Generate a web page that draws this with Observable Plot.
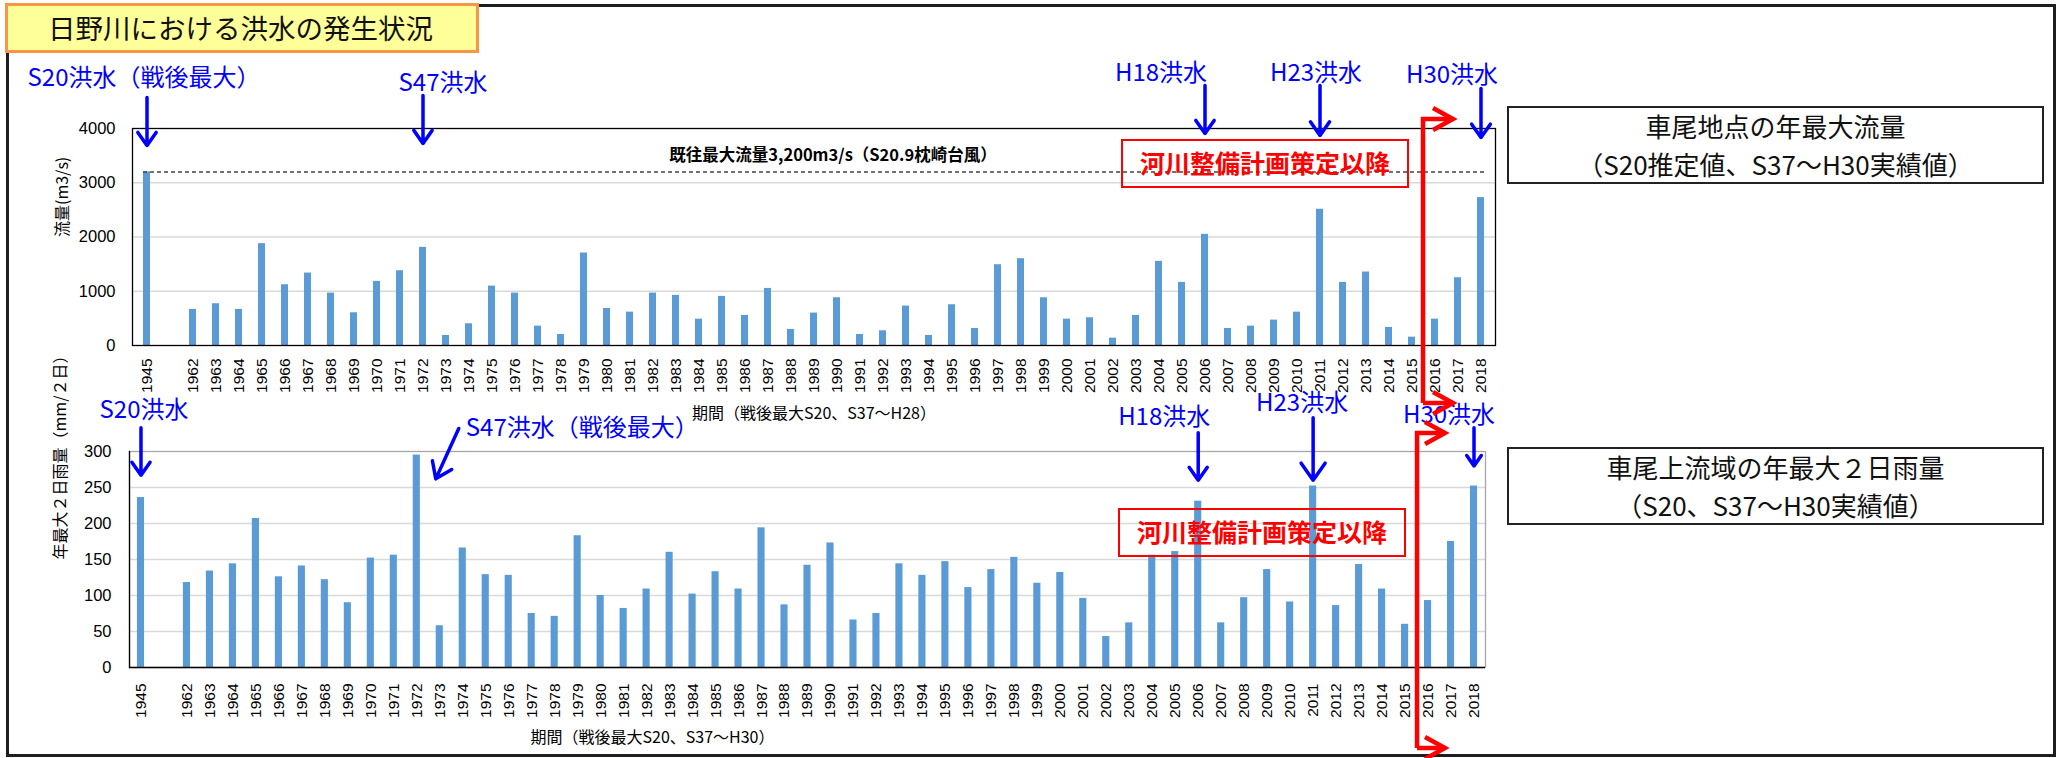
<!DOCTYPE html>
<html>
<head>
<meta charset="utf-8">
<script src="https://cdn.jsdelivr.net/npm/d3@7"></script>
<script src="https://cdn.jsdelivr.net/npm/@observablehq/plot@0.6"></script>
<style>
  body { margin: 0; background: #fff; }
  #page { position: relative; width: 2057px; height: 758px; overflow: hidden; background: #fff;
          font-family: "Noto Sans CJK JP", "Noto Sans", sans-serif; }
  .abs { position: absolute; }
  #frame { left: 6px; top: 4px; width: 2050px; height: 753px; box-sizing: border-box; border: 3px solid #1e1e1e; }
  #title { left: 5px; top: 3px; width: 474px; height: 50px; box-sizing: border-box; border: 3px solid #F79646;
           background: #FFFF99; font-size: 27.5px; line-height: 43px; padding-left: 40px; color: #111; white-space: nowrap; }
  .legend { left: 1507px; width: 537px; height: 78px; box-sizing: border-box; border: 2px solid #222;
            display: flex; flex-direction: column; justify-content: center; align-items: center;
            font-size: 26px; line-height: 38px; color: #111; white-space: nowrap; }
  .plot { left: 0; }
</style>
</head>
<body>
<div id="page">
  <div id="frame" class="abs"></div>
</div>
<script>
// ---------------- data ----------------
const years = ["1945",
  "1962","1963","1964","1965","1966","1967","1968","1969","1970","1971",
  "1972","1973","1974","1975","1976","1977","1978","1979","1980","1981",
  "1982","1983","1984","1985","1986","1987","1988","1989","1990","1991",
  "1992","1993","1994","1995","1996","1997","1998","1999","2000","2001",
  "2002","2003","2004","2005","2006","2007","2008","2009","2010","2011",
  "2012","2013","2014","2015","2016","2017","2018"];

// 車尾地点の年最大流量 (m3/s)
const flow = [3200,
  665, 770, 665, 1877, 1120, 1335, 966, 603, 1182, 1378,
  1809, 185, 400, 1095, 966, 357, 203, 1705, 683, 615,
  966, 923, 486, 905, 554, 1052, 295, 597, 880, 203,
  271, 726, 185, 751, 314, 1489, 1600, 880, 486, 511,
  135, 554, 1551, 1163, 2049, 314, 357, 468, 615, 2511,
  1163, 1354, 332, 154, 486, 1249, 2726];

// 車尾上流域の年最大2日雨量 (mm/2日)
const rain = [236,
  118, 134, 144, 207, 126, 141, 122, 90, 152, 156,
  295, 58, 166, 129, 128, 75, 71, 183, 100, 82,
  109, 160, 102, 133, 109, 194, 87, 142, 173, 66,
  75, 144, 128, 147, 111, 136, 153, 117, 132, 96,
  43, 62, 156, 161, 231, 62, 97, 136, 91, 252,
  86, 143, 109, 60, 93, 175, 252];

const flowTicks = [0, 1000, 2000, 3000, 4000];
const rainTicks = [0, 50, 100, 150, 200, 250, 300];
const maxFlow = 3200;

const titleText = "日野川における洪水の発生状況";
const flowLegend = ["車尾地点の年最大流量", "（S20推定値、S37～H30実績値）"];
const rainLegend = ["車尾上流域の年最大２日雨量", "（S20、S37～H30実績値）"];
const flowYLabel = "流量(m3/s)";
const rainYLabel = "年最大２日雨量（mm/２日）";
const flowXLabel = "期間（戦後最大S20、S37～H28）";
const rainXLabel = "期間（戦後最大S20、S37～H30）";
const maxFlowLabel = "既往最大流量3,200m3/s（S20.9枕崎台風）";
const planLabel = "河川整備計画策定以降";

// flood annotations: label, year pointed at, label height, arrow start/end (in axis units)
const flowNotes = [
  {label: "S20洪水（戦後最大）", year: "1945", ty: 4922, dx: -3,  y1: 4571, y2: 3687},
  {label: "S47洪水",             year: "1972", ty: 4829, dx: 20,  y1: 4608, y2: 3724},
  {label: "H18洪水",             year: "2006", ty: 5014, dx: -44, y1: 4793, y2: 3908},
  {label: "H23洪水",             year: "2011", ty: 5014, dx: -4,  y1: 4793, y2: 3871},
  {label: "H30洪水",             year: "2018", ty: 4977, dx: -29, y1: 4737, y2: 3834}
];
const rainNotes = [
  {label: "S20洪水",             year: "1945", ty: 357, dx: 3,   y1: 333, y2: 267},
  {label: "H18洪水",             year: "2006", ty: 347, dx: -34, y1: 326, y2: 260},
  {label: "H23洪水",             year: "2011", ty: 367, dx: -11, y1: 347, y2: 260},
  {label: "H30洪水",             year: "2018", ty: 350, dx: -25, y1: 333, y2: 280}
];
const rainNoteS47 = {label: "S47洪水（戦後最大）", from: "1974", to: "1973", ty: 332, y1: 332, y2: 262};

// ---------------- layout ----------------
const W = 2057;
const GAP = " ";
const xDomain = [years[0], GAP, ...years.slice(1)];
const barBlue = "#5B9BD5";
const noteBlue = "#0000FF";
const jp = "Noto Sans CJK JP, sans-serif";
const latin = "Liberation Sans, Arial, sans-serif";

const page = document.getElementById("page");

function chart({data, yDomain, ticks, top, height, mt, mb, ml, mr, frameStroke, notes, extra, ylabel, xlabel, xlabelDx, xlabelDy, tickPad, ylabelDx, ytickPad}) {
  const p = Plot.plot({
    width: W, height,
    marginTop: mt, marginBottom: mb, marginLeft: ml, marginRight: mr,
    style: {background: "transparent", overflow: "visible", fontFamily: latin, color: "#000"},
    x: {type: "band", domain: xDomain, paddingInner: 0.69, paddingOuter: 0.345, axis: null},
    y: {domain: yDomain, axis: null},
    marks: [
      Plot.gridY(ticks.slice(1, -1), {stroke: "#d9d9d9", strokeOpacity: 1, strokeWidth: 1.5}),
      Plot.barY(data, {x: "year", y: "value", fill: barBlue}),
      ...frameStroke,
      Plot.axisX({tickSize: 0, tickPadding: tickPad, tickRotate: -90, fontSize: 15.5,
                  tickFormat: d => (d === GAP ? "" : d), label: null, fontFamily: latin}),
      Plot.axisY(ticks, {tickSize: 0, tickPadding: ytickPad, fontSize: 16.5, label: null,
                  tickFormat: d => String(d), fontFamily: latin}),
      Plot.text([ylabel], {text: d => d, frameAnchor: "left", dx: ylabelDx, rotate: -90,
                           fontSize: 16, fontFamily: jp, fill: "#000"}),
      Plot.text([xlabel], {text: d => d, frameAnchor: "bottom", dx: xlabelDx, dy: xlabelDy,
                           fontSize: 16, fontFamily: jp, fill: "#000", lineAnchor: "middle"}),
      ...extra,
      Plot.arrow(notes, {x1: "year", x2: "year", y1: "y1", y2: "y2", stroke: noteBlue,
                         strokeWidth: 3.5, headLength: 15, headAngle: 70}),
      ...notes.map(n => Plot.text([n], {x: "year", y: "ty", text: "label", dx: n.dx,
                         fontSize: 24, fontFamily: jp, fill: noteBlue, lineAnchor: "middle"}))
    ]
  });
  p.classList.add("abs", "plot");
  p.style.top = top + "px";
  page.appendChild(p);
  return p;
}

const flowData = years.map((y, i) => ({year: y, value: flow[i]}));
const rainData = years.map((y, i) => ({year: y, value: rain[i]}));

chart({
  data: flowData, yDomain: [0, 4000], ticks: flowTicks,
  top: 0, height: 420, mt: 128, mb: 75, ml: 132, mr: W - 1495,
  frameStroke: [Plot.frame({stroke: "#000", strokeWidth: 1.3})],
  notes: flowNotes,
  extra: [
    Plot.ruleY([{v: maxFlow, a: years[0], b: years[years.length - 1]}],
               {y: "v", x1: "a", x2: "b", stroke: "#444", strokeWidth: 1.5, strokeDasharray: "4,3"}),
    Plot.text([{t: maxFlowLabel, x: "1990", v: 3502}], {x: "x", y: "v", text: "t", dx: -4,
               fontSize: 16.5, fontWeight: "bold", fontFamily: jp, fill: "#000", lineAnchor: "middle"})
  ],
  ylabel: flowYLabel, xlabel: flowXLabel, xlabelDx: 0, xlabelDy: 68, tickPad: 13,
  ylabelDx: -70, ytickPad: 17
});

chart({
  data: rainData, yDomain: [0, 300], ticks: rainTicks,
  top: 380, height: 378, mt: 71, mb: 91, ml: 129, mr: W - 1485,
  frameStroke: [Plot.frame({stroke: "#a6a6a6", strokeWidth: 1.3}),
                Plot.ruleY([0], {stroke: "#000", strokeWidth: 1.3}),
                Plot.frame({anchor: "left", stroke: "#000", strokeWidth: 1.3})],
  notes: rainNotes,
  extra: [
    Plot.arrow([rainNoteS47], {x1: "from", x2: "to", y1: "y1", y2: "y2", dx: -4, stroke: noteBlue,
               strokeWidth: 3.5, headLength: 15, headAngle: 70}),
    Plot.text([rainNoteS47], {x: "from", y: "ty", text: "label", dx: 3, textAnchor: "start",
               fontSize: 24, fontFamily: jp, fill: noteBlue, lineAnchor: "middle"})
  ],
  ylabel: rainYLabel, xlabel: rainXLabel, xlabelDx: -155, xlabelDy: 70, tickPad: 16,
  ylabelDx: -69, ytickPad: 18
});

// ---------------- title & legend boxes ----------------
const title = document.createElement("div");
title.className = "abs"; title.id = "title"; title.textContent = titleText;
page.appendChild(title);

function legend(lines, top) {
  const d = document.createElement("div");
  d.className = "abs legend";
  d.style.top = top + "px";
  for (const l of lines) { const s = document.createElement("div"); s.textContent = l; d.appendChild(s); }
  page.appendChild(d);
}
legend(flowLegend, 106);
legend(rainLegend, 447);

// ---------------- overlay: red plan boxes and brackets ----------------
const svg = d3.select(page).append("svg")
  .attr("class", "abs").attr("width", W).attr("height", 758)
  .style("left", "0px").style("top", "0px").style("pointer-events", "none");

function planBox(x, y, w, h) {
  svg.append("rect").attr("x", x).attr("y", y).attr("width", w).attr("height", h)
    .attr("fill", "none").attr("stroke", "#FF0000").attr("stroke-width", 2);
  svg.append("text").attr("x", x + w / 2).attr("y", y + h / 2).attr("dy", "0.36em")
    .attr("text-anchor", "middle").attr("fill", "#FF0000").attr("font-weight", "bold")
    .attr("font-family", jp).attr("font-size", 25).text(planLabel);
}
planBox(1122, 140, 286, 47);
planBox(1119, 509, 286, 47);

function bracket(x, y0, y1, len) {
  const g = svg.append("g").attr("stroke", "#FF0000").attr("stroke-width", 4.5)
    .attr("fill", "none").attr("stroke-linejoin", "miter").attr("stroke-linecap", "butt");
  g.append("path").attr("d", `M${x},${y1} V${y0} H${x + len}`);
  g.append("path").attr("d", `M${x},${y1} H${x + len}`);
  for (const y of [y0, y1]) {
    g.append("path").attr("d", `M${x + len - 20},${y - 11} L${x + len},${y} L${x + len - 20},${y + 11}`);
  }
}
bracket(1423, 119, 403, 30);
bracket(1417, 433, 748, 28);
</script>
</body>
</html>
